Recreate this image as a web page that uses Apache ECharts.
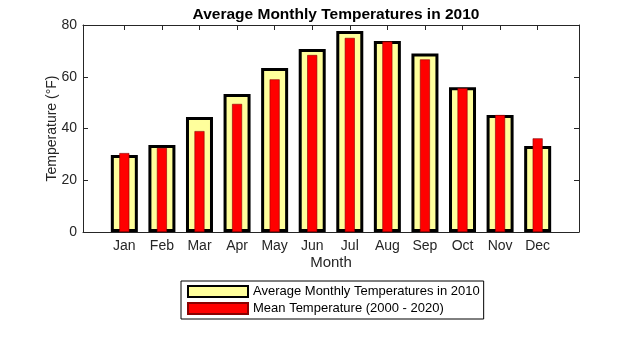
<!DOCTYPE html>
<html>
<head>
<meta charset="utf-8">
<script src="https://cdn.jsdelivr.net/npm/echarts@6/dist/echarts.min.js"></script>
<style>html,body{margin:0;padding:0;background:#fff;}#c{width:640px;height:360px;}</style>
</head>
<body>
<div id="c"></div>
<script>
var months = ['Jan','Feb','Mar','Apr','May','Jun','Jul','Aug','Sep','Oct','Nov','Dec'];
var temps2010 = [29.8, 33.6, 44.4, 53.3, 63.4, 70.7, 77.7, 73.8, 69.0, 55.9, 45.2, 33.2];
var meanTemps = [30.5, 32.5, 39.0, 49.5, 59.0, 68.4, 75.0, 73.6, 66.7, 55.6, 45.2, 36.2];
var yTicks = [0, 20, 40, 60, 80];
var seriesNames = ['Average Monthly Temperatures in 2010', 'Mean Temperature (2000 - 2020)'];

var positions = months.map(function (m, i) { return i + 1; });
var d1 = months.map(function (m, i) { return [i + 1, temps2010[i]]; });
var d2 = months.map(function (m, i) { return [i + 1, meanTemps[i]]; });

var txt = '#262626';
var font = 'Liberation Sans, Arial, Helvetica, sans-serif';
var chart = echarts.init(document.getElementById('c'), null, {renderer: 'canvas'});

function xAx(pos, labels) {
  return {
    type: 'value', position: pos, min: -0.1, max: 13.1,
    axisLine: {show: true, onZero: false, lineStyle: {color: txt, width: 1}},
    axisTick: {show: true, inside: true, length: 5, customValues: positions, lineStyle: {color: txt}},
    axisLabel: {show: labels, customValues: positions, color: txt, fontSize: 14, fontFamily: font, margin: 7,
      formatter: function (v) { return months[Math.round(v) - 1] || ''; }},
    splitLine: {show: false},
    name: labels ? 'Month' : '', nameLocation: 'middle', nameGap: 23, nameMoveOverlap: false,
    nameTextStyle: {color: txt, fontSize: 15, fontFamily: font}
  };
}
function yAx(pos, labels) {
  return {
    type: 'value', position: pos, min: yTicks[0], max: yTicks[yTicks.length - 1], interval: 20,
    axisLine: {show: true, onZero: false, lineStyle: {color: txt, width: 1}},
    axisTick: {show: true, inside: true, length: 5, lineStyle: {color: txt}},
    axisLabel: {show: labels, color: txt, fontSize: 14, fontFamily: font, margin: 6},
    splitLine: {show: false},
    name: labels ? 'Temperature (°F)' : '', nameLocation: 'middle', nameGap: 24, nameMoveOverlap: false,
    nameTextStyle: {color: txt, fontSize: 14, fontFamily: font}
  };
}

chart.setOption({
  animation: false,
  backgroundColor: '#fff',
  title: {
    text: 'Average Monthly Temperatures in 2010', left: 331, top: 2, textAlign: 'center',
    textStyle: {color: '#000', fontSize: 15.5, fontWeight: 'bold', fontFamily: font}
  },
  grid: {left: 83, right: 61, top: 25, bottom: 128, containLabel: false},
  xAxis: [xAx('bottom', true), xAx('top', false)],
  yAxis: [yAx('left', true), yAx('right', false)],
  legend: {
    orient: 'vertical', left: 181, top: 281,
    borderColor: '#000', borderWidth: 1, padding: [4, 4, 4, 6], itemGap: 4,
    itemWidth: 60, itemHeight: 11, icon: 'rect',
    textStyle: {color: '#000', fontSize: 13, fontFamily: font},
    data: seriesNames
  },
  series: [
    {
      name: seriesNames[0], type: 'bar', xAxisIndex: 0, yAxisIndex: 0, data: d1,
      barWidth: 27,
      itemStyle: {color: '#ffff9c', borderColor: '#000', borderWidth: 3}
    },
    {
      name: seriesNames[1], type: 'bar', xAxisIndex: 1, yAxisIndex: 0, data: d2,
      barWidth: 10,
      itemStyle: {color: '#ff0000', borderColor: '#8a0000', borderWidth: 0.6}
    }
  ]
});
</script>
</body>
</html>
